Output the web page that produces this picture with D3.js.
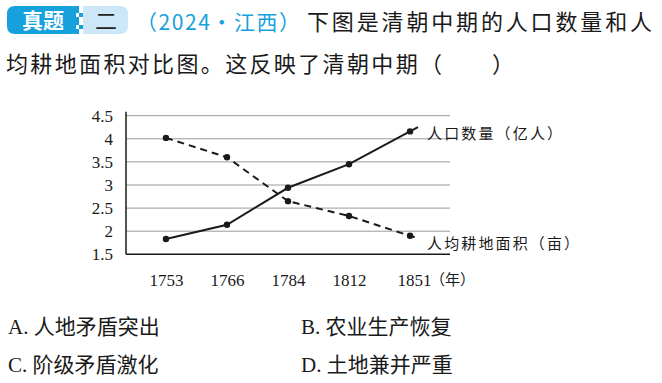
<!DOCTYPE html>
<html>
<head>
<meta charset="utf-8">
<script src="https://cdn.jsdelivr.net/npm/d3@7"></script>
<style>
  html, body { margin: 0; padding: 0; background: #fff; }
  svg { display: block; }
</style>
</head>
<body>
<svg id="chart" width="662" height="383"></svg>
<script>
// ---- data ----
const years = ["1753", "1766", "1784", "1812", "1851"];
const population = [1.83, 2.14, 2.94, 3.45, 4.16];   // 人口数量（亿人）
const landPerCapita = [4.02, 3.60, 2.65, 2.33, 1.90]; // 人均耕地面积（亩）
const yTicks = [1.5, 2, 2.5, 3, 3.5, 4, 4.5];
const seriesNames = ["人口数量（亿人）", "人均耕地面积（亩）"];
const xUnit = "（年）";
const titleLine1 = "下图是清朝中期的人口数量和人";
const titleLine2 = "均耕地面积对比图。这反映了清朝中期（";
const source = "（2024·江西）";
const optionLetters = ["A.", "B.", "C.", "D."];
const optionTexts = ["人地矛盾突出", "农业生产恢复", "阶级矛盾激化", "土地兼并严重"];

const svg = d3.select("#chart");
const CJK = "'Noto Sans CJK SC', 'Noto Sans', sans-serif";
const SERIF = "'Liberation Serif', 'DejaVu Serif', serif";
const BLUE = "#17a1dc";

// ---- header ----
const badge = svg.append("g");
badge.append("path")
  .attr("d", "M15,6 H79 V34 H15 Q7,34 7,26 V14 Q7,6 15,6 Z")
  .attr("fill", BLUE);
badge.append("path")
  .attr("d", "M83,6 H120 Q128,6 128,14 V26 Q128,34 120,34 H83 Z")
  .attr("fill", "#cce8f8");
[13, 25].forEach(yy => {
  badge.append("rect").attr("x", 76).attr("y", yy).attr("width", 3).attr("height", 4).attr("fill", "#fff");
  badge.append("rect").attr("x", 79).attr("y", yy).attr("width", 4).attr("height", 4).attr("fill", BLUE);
});
badge.append("text").attr("x", 43).attr("y", 28).attr("text-anchor", "middle")
  .attr("font-family", CJK).attr("font-weight", "bold").attr("font-size", 21)
  .attr("fill", "#fff").text("真题");
badge.append("text").attr("x", 106).attr("y", 29).attr("text-anchor", "middle")
  .attr("font-family", CJK).attr("font-size", 22).attr("fill", "#222").text("二");

svg.append("text").attr("x", 136).attr("y", 30)
  .attr("font-family", CJK).attr("font-size", 21).attr("fill", BLUE)
  .attr("textLength", 164).attr("lengthAdjust", "spacing").text(source);
svg.append("text").attr("x", 307).attr("y", 30)
  .attr("font-family", CJK).attr("font-size", 22).attr("fill", "#1a1a1a")
  .attr("textLength", 345).attr("lengthAdjust", "spacing").text(titleLine1);
svg.append("text").attr("x", 6).attr("y", 72)
  .attr("font-family", CJK).attr("font-size", 22).attr("fill", "#1a1a1a")
  .attr("textLength", 436).attr("lengthAdjust", "spacing").text(titleLine2);
svg.append("text").attr("x", 492).attr("y", 72)
  .attr("font-family", CJK).attr("font-size", 22).attr("fill", "#1a1a1a").text("）");

// ---- chart ----
const x = d3.scalePoint().domain(years).range([126, 450]).padding(0.655);
const y = d3.scaleLinear().domain([1.5, 4.5]).range([254.3, 115.7]);

// gridlines
svg.append("g").selectAll("line").data(yTicks.slice(1)).join("line")
  .attr("x1", 126).attr("x2", 450)
  .attr("y1", d => y(d)).attr("y2", d => y(d))
  .attr("stroke", "#9a9a9a").attr("stroke-width", 1);

// axes
const yAxis = svg.append("g").attr("transform", "translate(126,0)")
  .attr("font-family", SERIF)
  .call(d3.axisLeft(y).tickValues(yTicks).tickSize(0).tickPadding(13).tickFormat(d3.format("")));
yAxis.attr("font-family", SERIF);
yAxis.select(".domain").remove();
yAxis.selectAll("text").attr("font-family", SERIF).attr("font-size", 17).attr("fill", "#1a1a1a");
svg.append("line").attr("x1", 126).attr("x2", 126).attr("y1", y(4.5) - 4).attr("y2", y(1.5))
  .attr("stroke", "#1a1a1a").attr("stroke-width", 1.5);

const xAxis = svg.append("g").attr("transform", `translate(0,${y(1.5)})`)
  .call(d3.axisBottom(x).tickSize(0).tickPadding(20));
xAxis.attr("font-family", SERIF);
xAxis.select(".domain").attr("d", `M126,0H450`).attr("stroke", "#1a1a1a").attr("stroke-width", 1.5);
xAxis.selectAll("text").attr("font-family", SERIF).attr("font-size", 17).attr("fill", "#1a1a1a")
  .attr("dx", (d, i) => i === years.length - 1 ? 4 : 0);
svg.append("text")
  .attr("x", x(years[years.length - 1]) + 20).attr("y", y(1.5) + 31)
  .attr("font-family", CJK).attr("font-size", 15).attr("fill", "#1a1a1a")
  .text(xUnit);

// series
const series = [
  { values: population, dash: null, name: seriesNames[0], dy: 0 },
  { values: landPerCapita, dash: "7,5", name: seriesNames[1], dy: 6 }
];
series.forEach(s => {
  const pts = years.map((yr, i) => [x(yr), y(s.values[i])]);
  const n = pts.length;
  const [ax, ay] = pts[n - 2], [bx, by] = pts[n - 1];
  const len = Math.hypot(bx - ax, by - ay), ext = 9;
  const extended = pts.concat([[bx + (bx - ax) / len * ext, by + (by - ay) / len * ext]]);
  svg.append("path")
    .attr("d", d3.line()(extended))
    .attr("fill", "none").attr("stroke", "#1a1a1a").attr("stroke-width", 2)
    .attr("stroke-dasharray", s.dash);
  svg.append("g").selectAll("circle").data(pts).join("circle")
    .attr("cx", d => d[0]).attr("cy", d => d[1]).attr("r", 3.2).attr("fill", "#1a1a1a");
  svg.append("text")
    .attr("x", bx + 17).attr("y", by + s.dy + 1)
    .attr("dominant-baseline", "central")
    .attr("font-family", CJK).attr("font-size", 15).attr("fill", "#1a1a1a")
    .attr("textLength", s.name.length * 17 - 1).attr("lengthAdjust", "spacing")
    .text(s.name);
});

// ---- options ----
const opt = svg.append("g").selectAll("text").data(optionTexts).join("text")
  .attr("x", (d, i) => i % 2 === 0 ? 8 : 301)
  .attr("y", (d, i) => i < 2 ? 334 : 372)
  .attr("font-size", 21).attr("fill", "#1a1a1a");
opt.append("tspan").attr("font-family", SERIF).text((d, i) => optionLetters[i] + " ");
opt.append("tspan").attr("font-family", CJK).text(d => d);
</script>
</body>
</html>
